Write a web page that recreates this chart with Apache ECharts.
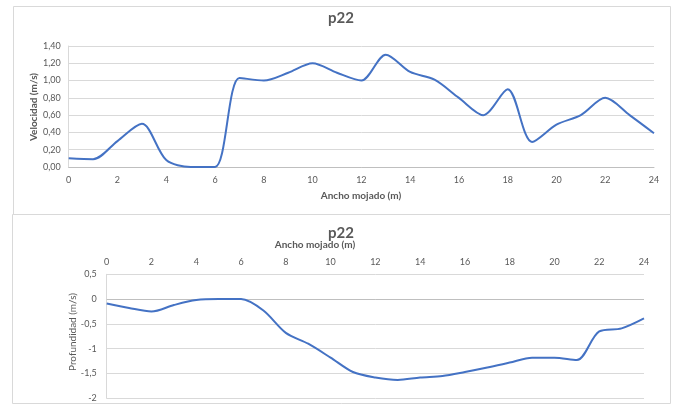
<!DOCTYPE html>
<html>
<head>
<meta charset="utf-8">
<script src="https://cdn.jsdelivr.net/npm/echarts@6/dist/echarts.min.js"></script>
<style>
html,body{margin:0;padding:0;background:#fff;}
#c{width:679px;height:406px;}
</style>
</head>
<body>
<div id="c"></div>
<script>
// Ancho mojado (m)
const anchoVel = [0,1,2,3,4,5,6,7,8,9,10,11,12,13,14,15,16,17,18,19,20,21,22,23,24];
// Velocidad (m/s)
const velocidad = [0.10,0.09,0.30,0.50,0.08,0.00,0.00,1.03,1.00,1.09,1.20,1.09,1.00,1.30,1.10,1.01,0.80,0.60,0.90,0.29,0.49,0.60,0.80,0.60,0.39];
// Ancho mojado (m) - profundidad
const anchoProf = [0,1,2,3,4,5,6,7,8,9,10,11,12,13,14,15,16,17,18,19,20,21,22,23,24];
// Profundidad
const profundidad = [-0.09,-0.18,-0.25,-0.12,-0.02,0.00,0.00,-0.23,-0.68,-0.90,-1.18,-1.47,-1.58,-1.63,-1.58,-1.55,-1.47,-1.38,-1.28,-1.18,-1.18,-1.23,-0.65,-0.59,-0.39];

const titles = ['p22','p22'];
const xName = 'Ancho mojado (m)';
const yNameTop = 'Velocidad (m/s)';
const yNameBottom = 'Profundidad (m/s)';

const FONT = 'Lato, "Open Sans", sans-serif';
const TXT = '#595959';
const GRID = '#d9d9d9';
const AXIS = '#bfbfbf';
const LINE = '#4472C4';

const fmtComma2 = v => v.toFixed(2).replace('.', ',');
const fmtComma = v => String(Math.round(v*10)/10).replace('.', ',');

const chart = echarts.init(document.getElementById('c'), null, {renderer:'canvas'});
chart.setOption({
  animation:false,
  backgroundColor:'#fff',
  graphic:[
    {type:'rect', shape:{x:13.5,y:6.5,width:657,height:208}, style:{fill:'none',stroke:GRID,lineWidth:1}, z:-1},
    {type:'rect', shape:{x:12.5,y:214.5,width:658,height:189}, style:{fill:'none',stroke:GRID,lineWidth:1}, z:-1},
    {type:'text', x:341, y:18, style:{text:titles[0], font:'bold 15px '+FONT, fill:TXT, align:'center', verticalAlign:'middle'}},
    {type:'text', x:341, y:233, style:{text:titles[1], font:'bold 15px '+FONT, fill:TXT, align:'center', verticalAlign:'middle'}},
    {type:'text', x:361, y:196, style:{text:xName, font:'bold 10px '+FONT, fill:TXT, align:'center', verticalAlign:'middle'}},
    {type:'text', x:315, y:245, style:{text:xName, font:'bold 10px '+FONT, fill:TXT, align:'center', verticalAlign:'middle'}},
    {type:'text', x:34, y:107, rotation:Math.PI/2, style:{text:yNameTop, font:'bold 10px '+FONT, fill:TXT, align:'center', verticalAlign:'middle'}},
    {type:'text', x:73, y:332, rotation:Math.PI/2, style:{text:yNameBottom, font:'10px '+FONT, fill:TXT, align:'center', verticalAlign:'middle'}}
  ],
  grid:[
    {left:68.7, right:25, top:46, height:121},
    {left:106.7, right:35, top:274.3, height:124}
  ],
  xAxis:[
    {gridIndex:0, type:'value', min:0, max:24, interval:2,
     axisLine:{show:true, onZero:true, lineStyle:{color:AXIS, width:1}},
     axisTick:{show:false}, splitLine:{show:false},
     axisLabel:{color:TXT, fontSize:9, fontFamily:FONT, margin:9}},
    {gridIndex:1, type:'value', min:0, max:24, interval:2, position:'top',
     axisLine:{show:false, onZero:false},
     axisTick:{show:false}, splitLine:{show:false},
     axisLabel:{color:TXT, fontSize:9, fontFamily:FONT, margin:8}}
  ],
  yAxis:[
    {gridIndex:0, type:'value', min:0, max:1.4, interval:0.2,
     axisLine:{show:true, lineStyle:{color:GRID}}, axisTick:{show:false},
     splitLine:{show:true, lineStyle:{color:GRID, width:1}},
     axisLabel:{color:TXT, fontSize:9, fontFamily:FONT, margin:8, formatter:fmtComma2}},
    {gridIndex:1, type:'value', min:-2, max:0.5, interval:0.5,
     axisLine:{show:true, lineStyle:{color:GRID}}, axisTick:{show:false},
     splitLine:{show:true, lineStyle:{color:GRID, width:1}},
     axisLabel:{color:TXT, fontSize:9, fontFamily:FONT, margin:10, formatter:fmtComma}}
  ],
  series:[
    {type:'line', xAxisIndex:0, yAxisIndex:0, smooth:0.3, symbol:'none', clip:true,
     lineStyle:{color:LINE, width:2}, data:anchoVel.map((x,i)=>[x, velocidad[i]])},
    {type:'line', xAxisIndex:1, yAxisIndex:1, smooth:0.3, symbol:'none', clip:true,
     lineStyle:{color:LINE, width:2}, data:anchoProf.map((x,i)=>[x, profundidad[i]]),
     markLine:{silent:true, symbol:'none', label:{show:false}, lineStyle:{color:AXIS, width:1, type:'solid'}, data:[{yAxis:0}], z:1}}
  ]
});
</script>
</body>
</html>
